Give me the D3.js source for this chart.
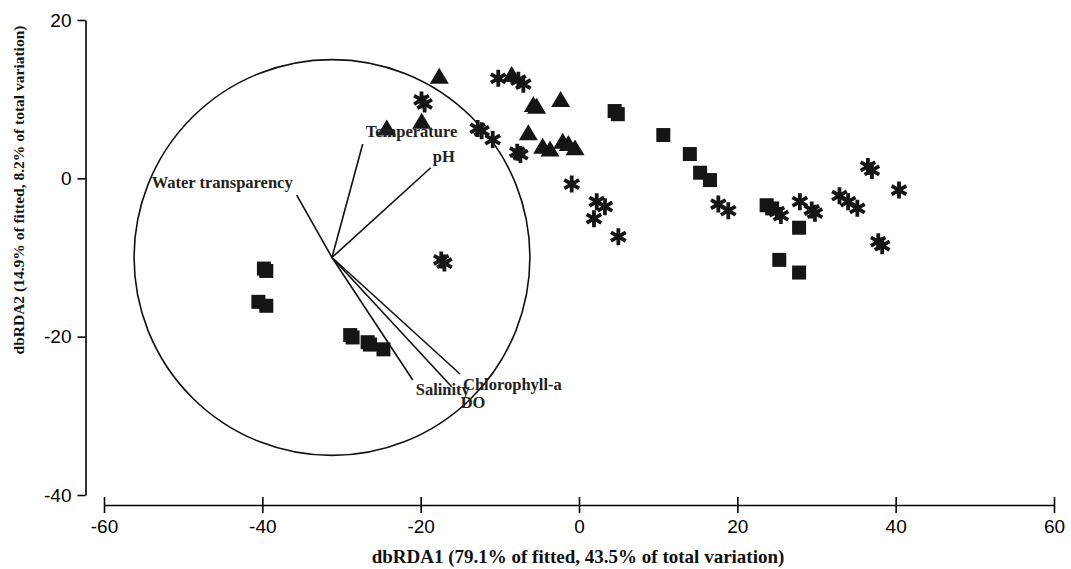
<!DOCTYPE html>
<html><head><meta charset="utf-8">
<script src="https://cdn.jsdelivr.net/npm/d3@7"></script>
<style>body{margin:0;background:#fff}</style>
</head><body>
<svg id="chart" width="1071" height="569"></svg>
<script>
// ---- data ----
const xTicks = [-60, -40, -20, 0, 20, 40, 60];
const yTicks = [20, 0, -20, -40];
const xTitle = "dbRDA1 (79.1% of fitted, 43.5% of total variation)";
const yTitle = "dbRDA2 (14.9% of fitted, 8.2% of total variation)";

const squares = [
  [-39.8,-11.4],[-39.5,-11.7],[-40.5,-15.6],[-39.5,-16.1],
  [-28.9,-19.8],[-28.6,-20.1],[-26.7,-20.7],[-26.4,-21.0],[-24.7,-21.6],
  [4.5,8.5],[4.9,8.1],[10.65,5.47],[14.0,3.07],[15.3,0.71],[16.55,-0.22],
  [23.7,-3.4],[24.4,-3.8],[27.8,-6.24],[25.3,-10.3],[27.8,-11.9]
];
const triangles = [
  [-17.65,12.84],[-19.87,7.15],[-24.29,6.3],[-8.5,13.05],
  [-5.77,9.26],[-5.35,9.05],[-2.32,9.9],[-6.4,5.7],
  [-4.59,4.0],[-3.66,3.66],[-2.06,4.62],[-1.35,4.33],[-0.5,3.79]
];
const asterisks = [
  [-19.9,9.9],[-19.5,9.4],[-12.8,6.3],[-12.3,6.0],[-10.9,4.9],
  [-10.2,12.63],[-7.66,12.4],[-7.03,11.9],[-7.8,3.3],[-7.4,3.0],
  [-0.92,-0.72],[2.24,-2.95],[3.28,-3.58],[1.89,-5.1],[4.97,-7.37],
  [17.6,-3.25],[18.86,-4.09],[25.0,-4.2],[25.5,-4.7],
  [27.9,-2.95],[29.4,-4.0],[29.8,-4.4],[32.9,-2.19],[34.0,-2.95],[35.16,-3.79],
  [36.5,1.5],[37.0,1.0],[40.42,-1.48],[37.8,-8.0],[38.3,-8.5],
  [-17.4,-10.3],[-17.0,-10.7]
];

const vectorOrigin = [-31.2, -10];
const circleRadius = 25;
const vectorNames = ["Temperature","pH","Water transparency","Salinity","DO","Chlorophyll-a"];
const vectorEnds = [[-27.32,4.33],[-18.73,1.34],[-35.66,-2.11],[-21.0,-25.48],[-16.08,-26.32],[-15.03,-24.72]];

// ---- layout ----
const labelOffsets = [[3,-7,"start"],[2,-6,"start"],[-4,-7,"end"],[3,15,"start"],[9,21,"start"],[3,16,"start"]];
const ink = "#151515";

const svg = d3.select("#chart");
svg.append("rect").attr("width",1071).attr("height",569).attr("fill","#fff");
const x = d3.scaleLinear().domain([-60,60]).range([104,1054]);
const y = d3.scaleLinear().domain([-40,20]).range([495,20]);
const fmt = d => String(d);

// x axis
const gx = svg.append("g").attr("transform","translate(0,505)")
  .call(d3.axisBottom(x).tickValues(xTicks).tickSizeOuter(0).tickSizeInner(8).tickFormat(fmt));
gx.attr("font-family","'Liberation Sans', Arial, sans-serif").attr("font-size",19);
gx.select(".domain").attr("stroke","#000").attr("stroke-width",1.6);
gx.selectAll(".tick line").attr("y1",-8).attr("y2",8).attr("stroke","#000").attr("stroke-width",1.6);
gx.selectAll(".tick text").attr("y",15).attr("dy","0.71em").attr("fill","#000");

// y axis
const gy = svg.append("g").attr("transform","translate(85.5,0)")
  .call(d3.axisLeft(y).tickValues(yTicks).tickSizeOuter(0).tickSizeInner(8).tickFormat(fmt));
gy.attr("font-family","'Liberation Sans', Arial, sans-serif").attr("font-size",19);
gy.select(".domain").attr("stroke","#000").attr("stroke-width",1.6);
gy.selectAll(".tick line").attr("stroke","#000").attr("stroke-width",1.6);
gy.selectAll(".tick text").attr("x",-14).attr("fill","#000");

// titles
svg.append("text").attr("x",578).attr("y",563).attr("text-anchor","middle")
  .attr("font-family","'Liberation Serif', 'Times New Roman', serif").attr("font-weight","bold")
  .attr("font-size",19).attr("fill","#111").text(xTitle);
svg.append("text").attr("transform","translate(24,190) rotate(-90)").attr("text-anchor","middle")
  .attr("font-family","'Liberation Serif', 'Times New Roman', serif").attr("font-weight","bold")
  .attr("font-size",15.5).attr("fill","#111").text(yTitle);

// correlation circle & vectors
const ox = x(vectorOrigin[0]), oy = y(vectorOrigin[1]);
svg.append("circle").attr("cx",ox).attr("cy",oy).attr("r",x(circleRadius)-x(0))
  .attr("fill","none").attr("stroke","#111").attr("stroke-width",1.6);
svg.selectAll("line.vec").data(vectorEnds).join("line").attr("class","vec")
  .attr("x1",ox).attr("y1",oy).attr("x2",d=>x(d[0])).attr("y2",d=>y(d[1]))
  .attr("stroke","#111").attr("stroke-width",1.6);

// points
const asteriskType = {draw(ctx,size){const r=Math.sqrt(size)/2,t=r/2,u=t*Math.sqrt(3);
  ctx.moveTo(0,r);ctx.lineTo(0,-r);ctx.moveTo(-u,-t);ctx.lineTo(u,t);ctx.moveTo(-u,t);ctx.lineTo(u,-t);}};
const triangleType = {draw(ctx,size){const s=Math.sqrt(size);const hw=s*0.5,h=s*0.84;
  ctx.moveTo(0,-h*0.56);ctx.lineTo(hw,h*0.44);ctx.lineTo(-hw,h*0.44);ctx.closePath();}};

svg.selectAll("path.sq").data(squares).join("path").attr("class","sq")
  .attr("transform",d=>`translate(${x(d[0])},${y(d[1])})`)
  .attr("d",d3.symbol().type(d3.symbolSquare).size(196)).attr("fill",ink);
svg.selectAll("path.tri").data(triangles).join("path").attr("class","tri")
  .attr("transform",d=>`translate(${x(d[0])},${y(d[1])})`)
  .attr("d",d3.symbol().type(triangleType).size(19*19)).attr("fill",ink);
svg.selectAll("path.ast").data(asterisks).join("path").attr("class","ast")
  .attr("transform",d=>`translate(${x(d[0])},${y(d[1])})`)
  .attr("d",d3.symbol().type(asteriskType).size(17*17)).attr("fill","none")
  .attr("stroke",ink).attr("stroke-width",3.8);

// vector labels (drawn after points)
svg.selectAll("text.vlab").data(vectorNames).join("text").attr("class","vlab")
  .attr("x",(d,i)=>x(vectorEnds[i][0])+labelOffsets[i][0])
  .attr("y",(d,i)=>y(vectorEnds[i][1])+labelOffsets[i][1])
  .attr("text-anchor",(d,i)=>labelOffsets[i][2])
  .attr("font-family","'Liberation Serif', 'Times New Roman', serif").attr("font-weight","bold")
  .attr("font-size",16.5).attr("fill","#222").text(d=>d);
</script>
</body></html>
